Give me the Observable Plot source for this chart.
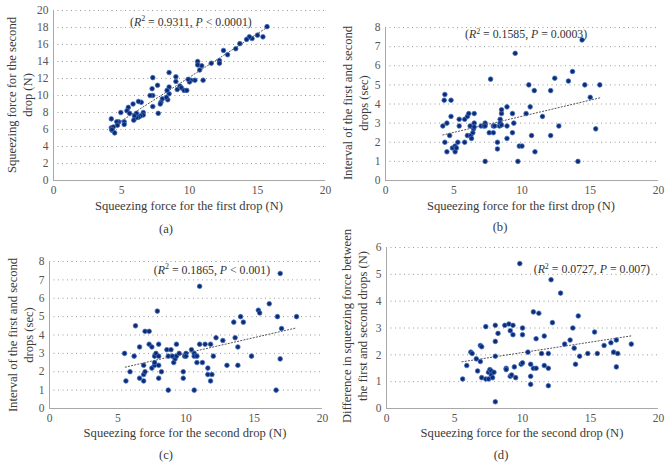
<!DOCTYPE html>
<html>
<head>
<meta charset="utf-8">
<script src="https://cdn.jsdelivr.net/npm/d3@7"></script>
<script src="https://cdn.jsdelivr.net/npm/@observablehq/plot@0.6"></script>
<style>
  html, body { margin: 0; padding: 0; background: #fff; }
  #root { position: relative; width: 670px; height: 476px; overflow: hidden; font-family: "Liberation Serif", "DejaVu Serif", serif; color: #3a3a3a; }
  .panel { position: absolute; }
  .lbl { position: absolute; white-space: nowrap; font-size: 12.6px; line-height: 16px; text-align: center; color: #3a3a3a; }
  .ylbl { transform: translate(-50%, -50%) rotate(-90deg); }
  .xlbl { transform: translate(-50%, -50%); }
</style>
</head>
<body>
<div id="root"></div>
<script>
// ---------- data ----------
// Panel (a): first-drop force vs second-drop force (N)
const aFirst  = [15.7,15.4,15.0,14.6,14.4,14.2,13.7,13.4,12.8,12.5,12.2,12.2,11.6,11.0,10.9,10.75,10.6,10.6,10.4,10.1,10.0,9.9,9.1,9.3,9.4,9.6,9.8,9.0,9.0,8.5,8.5,8.5,8.4,8.35,8.3,8.0,7.9,7.85,7.3,7.25,7.3,7.1,7.3,7.65,7.7,6.6,6.6,6.45,6.25,6.4,6.25,6.1,6.1,5.95,5.9,5.85,5.5,5.4,5.6,5.2,5.2,4.95,4.8,4.65,4.7,4.25,4.25,4.3,4.5,4.4,4.3];
const aSecond = [18.1,16.9,17.1,16.7,16.9,16.6,16.1,15.5,14.8,15.3,14.1,13.8,13.8,11.8,13.5,13.0,14.0,13.6,11.8,11.8,11.6,11.9,10.7,11.1,10.9,10.6,10.6,12.2,11.65,12.7,11.0,10.2,9.5,10.6,9.8,9.6,9.2,9.0,12.1,10.8,10.0,10.0,8.7,11.2,7.9,8.0,7.7,9.2,9.3,7.6,7.45,7.4,7.9,7.6,7.1,9.0,8.6,8.2,7.9,6.9,6.6,8.0,6.9,6.9,6.5,7.25,6.2,5.9,5.6,6.3,6.0];

// Panel (b): first-drop force (N) vs interval (sec)
const bFirst    = [4.2,4.3,4.35,4.35,4.5,4.5,4.7,4.8,4.8,4.9,5.1,5.1,5.2,5.3,5.4,5.4,5.8,5.8,6.0,6.0,6.1,6.2,6.25,6.3,6.4,6.45,6.5,6.5,6.5,7.0,7.2,7.3,7.3,7.3,7.6,7.7,7.9,7.9,8.0,8.2,8.2,8.35,8.4,8.4,8.5,8.5,8.5,8.9,8.9,8.9,9.3,9.3,9.4,9.5,9.7,9.8,10.0,10.3,10.5,10.6,10.7,10.9,10.95,11.5,12.1,12.1,12.4,12.7,13.4,13.7,14.1,14.4,14.6,15.0,15.4,15.7];
const bInterval = [2.85,4.2,4.5,2.0,3.0,1.5,2.35,4.2,3.35,1.7,1.8,1.5,1.7,2.0,3.2,2.85,3.2,2.0,3.35,2.35,3.5,2.85,2.35,2.2,2.5,2.7,3.5,3.0,2.8,2.85,2.85,3.0,1.0,2.85,2.5,5.3,2.85,2.5,2.85,2.0,1.65,2.85,3.2,3.0,3.5,3.7,2.9,3.85,2.85,2.2,3.5,2.5,3.0,6.65,1.0,1.8,1.8,3.5,5.0,3.85,2.35,4.7,1.5,3.35,4.7,2.35,5.35,2.85,5.2,5.7,1.0,7.35,5.0,4.35,2.7,5.0];

// Panel (c): second-drop force (N) vs interval (sec)
const cSecond   = [5.5,5.6,5.9,6.2,6.3,6.6,6.6,6.9,6.9,6.9,7.0,7.0,7.3,7.3,7.5,7.5,7.7,7.7,7.7,7.8,7.9,8.0,8.0,8.0,8.0,8.2,8.6,8.7,8.7,8.9,9.0,9.1,9.2,9.3,9.3,9.5,9.8,9.8,9.9,10.0,10.0,10.4,10.6,10.6,10.6,10.8,10.8,11.0,11.0,11.2,11.4,11.6,11.6,11.8,11.8,11.9,12.0,12.2,12.7,13.0,13.5,13.6,13.8,13.8,14.0,14.2,14.8,15.3,15.4,16.1,16.6,16.7,16.9,16.9,17.0,18.1];
const cInterval = [3.0,1.5,2.0,2.85,4.5,3.35,1.65,2.35,1.5,1.85,2.0,4.2,4.2,3.5,3.35,2.2,2.85,2.35,2.5,3.0,5.3,3.5,2.85,2.35,1.65,2.0,3.2,2.85,1.0,3.2,2.85,2.5,2.7,3.5,2.85,3.0,2.0,1.65,2.85,3.0,2.85,3.2,3.0,2.85,1.0,2.85,2.5,6.65,3.5,2.5,3.5,2.2,1.85,3.5,1.5,1.85,2.85,3.85,3.7,2.35,4.7,3.85,3.35,2.35,5.0,4.7,2.85,5.35,5.2,5.7,1.0,5.0,7.35,2.7,4.35,5.0];

// Panel (d): second-drop force (N) vs difference in force (N)
const dSecond = [5.6,5.9,6.2,6.3,6.6,6.7,6.9,6.9,7.0,7.0,7.3,7.3,7.5,7.5,7.6,7.7,7.7,7.8,7.9,8.0,8.0,8.0,8.0,8.2,8.7,8.8,8.8,9.0,9.1,9.1,9.2,9.3,9.3,9.4,9.5,9.8,9.9,10.0,10.0,10.0,10.4,10.6,10.6,10.6,10.8,10.8,11.0,11.0,11.2,11.4,11.6,11.6,11.9,11.9,11.9,12.1,12.2,12.8,13.1,13.5,13.7,13.8,13.9,14.1,14.2,14.8,15.3,15.5,16.0,16.5,16.7,16.9,16.9,17.0,18.0];
const dDiff   = [1.1,1.6,2.1,2.05,1.85,1.4,2.35,1.75,2.3,1.15,3.05,1.1,1.1,1.35,1.45,1.4,1.25,1.15,1.35,0.25,3.1,2.5,1.95,2.8,3.1,1.5,1.45,3.15,2.9,1.2,1.25,3.1,2.75,1.55,1.15,5.4,1.65,3.0,2.75,1.7,2.1,1.65,1.2,0.9,3.6,1.5,2.6,1.5,3.55,2.05,2.7,1.6,2.05,1.5,0.85,4.8,3.2,4.3,2.4,2.55,3.0,2.25,1.65,3.45,1.95,2.05,2.85,2.05,2.35,2.45,2.1,2.55,1.55,2.05,2.4];

// Dotted trend lines: end points
const trendA = [[4.2, 6.2], [15.7, 18.0]];
const trendB = [[4.2, 2.38], [15.7, 4.32]];
const trendC = [[5.55, 2.25], [18.05, 4.38]];
const trendD = [[5.55, 1.74], [18.05, 2.71]];

// Tick values
const xTicks = [0, 5, 10, 15, 20];
const yTicksA = [0, 2, 4, 6, 8, 10, 12, 14, 16, 18, 20];
const yTicksB = [0, 1, 2, 3, 4, 5, 6, 7, 8];
const yTicksC = [0, 1, 2, 3, 4, 5, 6, 7, 8];
const yTicksD = [0, 1, 2, 3, 4, 5, 6];

// Annotation texts
const noteA = "(R² = 0.9311, P < 0.0001)";
const noteB = "(R² = 0.1585, P = 0.0003)";
const noteC = "(R² = 0.1865, P < 0.001)";
const noteD = "(R² = 0.0727, P = 0.007)";

// ---------- layout ----------
const font = "Liberation Serif, DejaVu Serif, serif";
const panels = [
  { xs: aFirst, ys: aSecond, trend: trendA, yTicks: yTicksA, note: noteA, noteAt: [10.1, 18.65],
    left: 0, top: 0, w: 335, h: 240, mL: 53, mR: 10, mT: 10, mB: 60,
    xTitle: "Squeezing force for the first drop (N)", xTitlePos: [189, 206],
    yTitle: ["Squeezing force for the second", "drop (N)"], yTitlePos: [20, 95],
    cap: "(a)", capPos: [166, 229] },
  { xs: bFirst, ys: bInterval, trend: trendB, yTicks: yTicksB, note: noteB, noteAt: [10.3, 7.64],
    left: 335, top: 0, w: 335, h: 240, mL: 50, mR: 12, mT: 27, mB: 60,
    xTitle: "Squeezing force for the first drop (N)", xTitlePos: [521, 206],
    yTitle: ["Interval of the first and second", "drops (sec)"], yTitlePos: [356, 103],
    cap: "(b)", capPos: [500, 227] },
  { xs: cSecond, ys: cInterval, trend: trendC, yTicks: yTicksC, note: noteC, noteAt: [11.9, 7.55],
    left: 0, top: 240, w: 335, h: 236, mL: 49, mR: 13, mT: 21, mB: 68,
    xTitle: "Squeezing force for the second drop (N)", xTitlePos: [185, 433],
    yTitle: ["Interval of the first and second", "drops (sec)"], yTitlePos: [21, 335],
    cap: "(c)", capPos: [166, 455] },
  { xs: dSecond, ys: dDiff, trend: trendD, yTicks: yTicksD, note: noteD, noteAt: [15.1, 5.18],
    left: 335, top: 240, w: 335, h: 236, mL: 51, mR: 12, mT: 7, mB: 68,
    xTitle: "Squeezing force for the second drop (N)", xTitlePos: [522, 433],
    yTitle: ["Difference in squeezing force between", "the first and second drops (N)"], yTitlePos: [355, 326],
    cap: "(d)", capPos: [501, 455] }
];

const root = document.getElementById("root");

function addLabel(html, pos, cls) {
  const d = document.createElement("div");
  d.className = "lbl " + cls;
  d.style.left = pos[0] + "px";
  d.style.top = pos[1] + "px";
  d.innerHTML = html;
  root.appendChild(d);
}

for (const p of panels) {
  const pts = p.xs.map((x, i) => ({x, y: p.ys[i]}));
  const yMax = p.yTicks[p.yTicks.length - 1];
  const chart = Plot.plot({
    width: p.w, height: p.h,
    marginLeft: p.mL, marginRight: p.mR, marginTop: p.mT, marginBottom: p.mB,
    style: { fontFamily: font, fontSize: "11.5px", color: "#555", background: "transparent" },
    x: { domain: [0, 20] },
    y: { domain: [0, yMax] },
    marks: [
      Plot.gridY(p.yTicks, { stroke: "#9a9a9a", strokeOpacity: 1, strokeWidth: 1, strokeDasharray: "1,3.5" }),
      Plot.ruleY([0], { stroke: "#a8a8a8", strokeWidth: 1 }),
      Plot.ruleX([0], { stroke: "#a8a8a8", strokeWidth: 1 }),
      Plot.axisX(xTicks, { tickSize: 0, tickPadding: 5, label: null, fill: "#555" }),
      Plot.axisY(p.yTicks, { tickSize: 0, tickPadding: 5, label: null, fill: "#555" }),
      Plot.line(p.trend, { x: d => d[0], y: d => d[1], stroke: "#555", strokeWidth: 1, strokeDasharray: "1.2,2" }),
      Plot.dot(pts, { x: "x", y: "y", r: 2.3, fill: "#0f2a6e", stroke: "#3f6fc4", strokeWidth: 0.8 }),
      Plot.text([p.note], { x: () => p.noteAt[0], y: () => p.noteAt[1], text: d => d, fontSize: 11.8, fill: "#333" })
    ]
  });
  chart.classList.add("panel");
  chart.style.left = p.left + "px";
  chart.style.top = p.top + "px";
  root.appendChild(chart);

  // italic R and P, superscript 2
  chart.querySelectorAll("text").forEach(t => {
    const s = t.textContent;
    const m = s.match(/^\(R² = ([0-9.]+), P ([<=]) ([0-9.]+)\)$/);
    if (m) {
      t.innerHTML = '(<tspan font-style="italic">R</tspan><tspan dy="-4.5" font-size="8">2</tspan><tspan dy="4.5"> = ' + m[1] + ', </tspan><tspan font-style="italic">P</tspan><tspan> ' + (m[2] === "<" ? "&lt;" : "=") + ' ' + m[3] + ')</tspan>';
    }
  });

  addLabel(p.xTitle, p.xTitlePos, "xlbl");
  addLabel(p.yTitle.join("<br>"), p.yTitlePos, "ylbl");
  addLabel(p.cap, p.capPos, "xlbl");
}
</script>
</body>
</html>
